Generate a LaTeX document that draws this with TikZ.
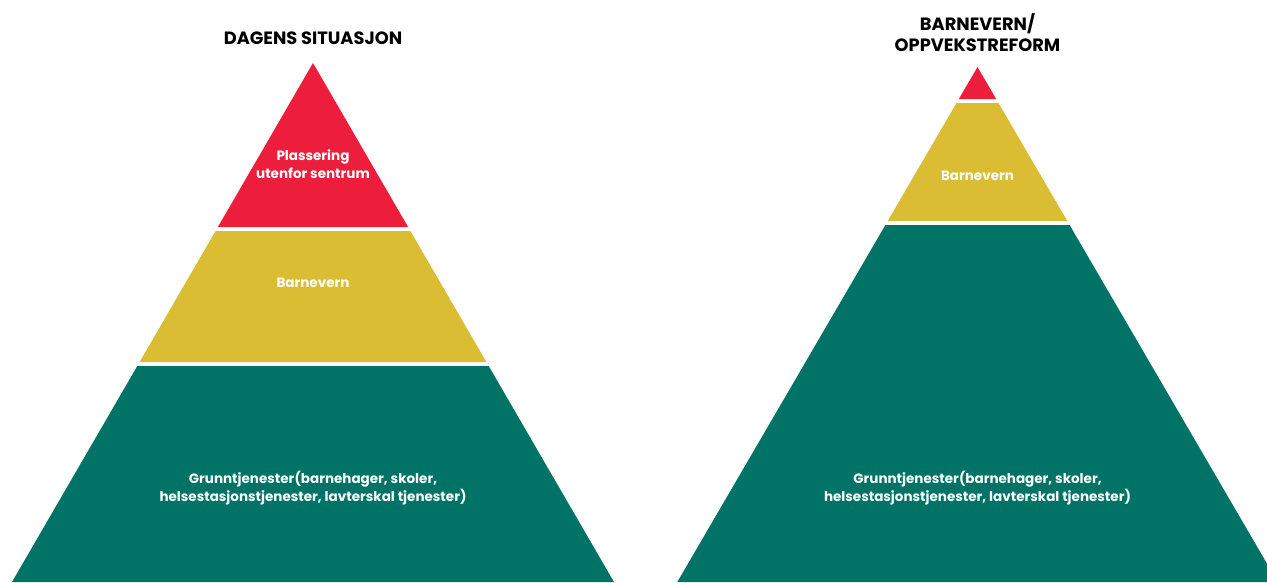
\documentclass[tikz,border=0pt]{standalone}
\usepackage{fontspec}
\setmainfont{Poppins}
\definecolor{pred}{RGB}{237,29,60}
\definecolor{pyellow}{RGB}{219,189,52}
\definecolor{pgreen}{RGB}{0,115,103}
\begin{document}
\begin{tikzpicture}[x=1pt,y=-1pt,
  title/.style={font=\bfseries\fontsize{17.8}{21.6}\selectfont, text=black, align=center, inner sep=0pt},
  lbl/.style={font=\bfseries\fontsize{13.5}{18}\selectfont, text=white, align=center, inner sep=0pt}]
\useasboundingbox (0,0) rectangle (1267,582);
\clip (0,0) rectangle (1267,582);
% left pyramid
\fill[pred] (313,63) -- (408.1,227) -- (217.9,227) -- cycle;
\fill[pyellow] (215.6,231) -- (410.4,231) -- (486.4,362) -- (139.6,362) -- cycle;
\fill[pgreen] (137.3,366) -- (488.7,366) -- (614,582) -- (12,582) -- cycle;
% right pyramid
\fill[pred] (977.5,67) -- (996.2,99) -- (958.8,99) -- cycle;
\fill[pyellow] (956.5,103) -- (998.5,103) -- (1067.3,221) -- (887.7,221) -- cycle;
\fill[pgreen] (885.4,225) -- (1069.6,225) -- (1277.7,582) -- (677.3,582) -- cycle;
% titles
\node[title] (t1) at (313,38.5) {DAGENS SITUASJON};
\node[title] (t2) at (977.5,32.5) {BARNEVERN/\\OPPVEKSTREFORM};
% labels
\node[lbl] (l1) at (313,164.5) {Plassering\\utenfor sentrum};
\node[lbl] (l2) at (313,283) {Barnevern};
\node[lbl] (l3) at (313,488) {Grunntjenester(barnehager, skoler,\\helsestasjonstjenester, lavterskal tjenester)};
\node[lbl] (r2) at (977.5,176) {Barnevern};
\node[lbl] (r3) at (977.5,488) {Grunntjenester(barnehager, skoler,\\helsestasjonstjenester, lavterskal tjenester)};
\end{tikzpicture}
\end{document}
